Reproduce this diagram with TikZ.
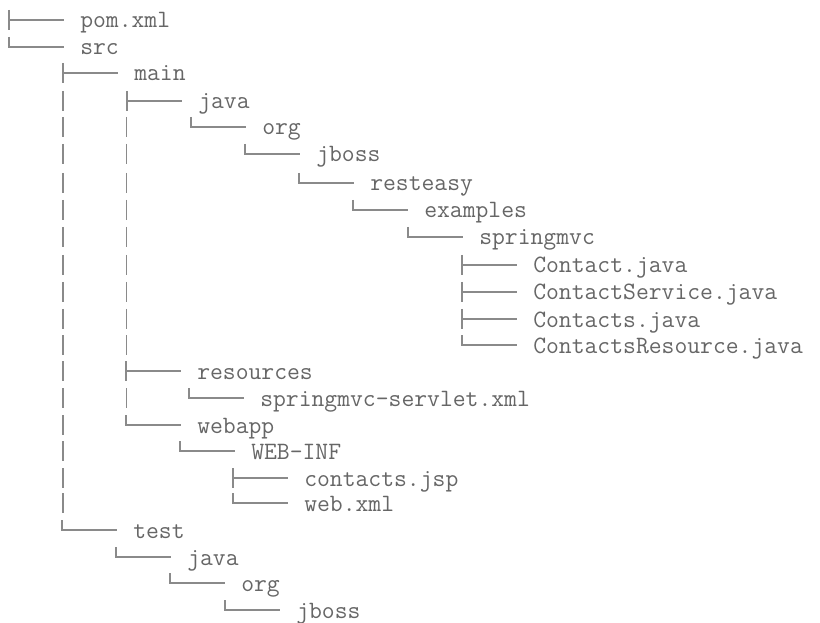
\documentclass[tikz,border=0pt]{standalone}
\usepackage{fontspec}
\usetikzlibrary{calc}

\definecolor{txtgray}{HTML}{666666}
\definecolor{linegray}{HTML}{8A8A8A}

% a directory entry: name, x of the parent's column, y of the branch line, label
\newcommand\dirnode[4]{%
  \node[entry] (#1) at ({#2+71},{#3+8}) {#4};
  \coordinate (#1-j) at (#2,#3);}
% "├──" joint to an entry
\newcommand\teelink[1]{%
  \draw[branch] ($(#1-j)+(0,-10)$) -- ($(#1-j)+(0,10)$)
                (#1-j) -- ($(#1.base west)+(-16,-8)$);}
% "└──" joint to an entry
\newcommand\elllink[1]{%
  \draw[branch] ($(#1-j)+(0,-10)$) -- (#1-j) -- ($(#1.base west)+(-16,-8)$);}
% "│" piece of a column passing an unrelated row
\newcommand\passbar[2]{\draw[branch] (#1,{#2-10}) -- (#1,{#2+10});}

\begin{document}
\begin{tikzpicture}[x=0.75pt,y=-0.75pt,
  entry/.style={anchor=base west,inner sep=0pt,text=txtgray,
    font=\ttfamily\fontsize{18.7}{20}\selectfont},
  branch/.style={draw=linegray,line width=0.9pt}]
\useasboundingbox[fill=white] (0,0) rectangle (820,623);

% entries
\dirnode{pom}{9}{20}{pom.xml}
\dirnode{src}{9}{47}{src}
\dirnode{main}{63}{73}{main}
\dirnode{mjava}{127}{101}{java}
\dirnode{morg}{191}{127}{org}
\dirnode{mjboss}{245}{154}{jboss}
\dirnode{resteasy}{299}{183}{resteasy}
\dirnode{examples}{353}{210}{examples}
\dirnode{springmvc}{408}{237}{springmvc}
\dirnode{contact}{462}{265}{Contact.java}
\dirnode{service}{462}{292}{ContactService.java}
\dirnode{contacts}{462}{319}{Contacts.java}
\dirnode{resource}{462}{345}{ContactsResource.java}
\dirnode{resources}{126}{371}{resources}
\dirnode{servlet}{189}{398}{springmvc-servlet.xml}
\dirnode{webapp}{126}{425}{webapp}
\dirnode{webinf}{180}{451}{WEB-INF}
\dirnode{jsp}{233}{478}{contacts.jsp}
\dirnode{webxml}{233}{503}{web.xml}
\dirnode{test}{62}{530}{test}
\dirnode{tjava}{116}{557}{java}
\dirnode{torg}{170}{583}{org}
\dirnode{tjboss}{225}{610}{jboss}

% joints
\teelink{pom}      \elllink{src}
\teelink{main}     \elllink{test}
\teelink{mjava}    \teelink{resources} \elllink{webapp}
\elllink{morg}     \elllink{mjboss}    \elllink{resteasy}
\elllink{examples} \elllink{springmvc}
\teelink{contact}  \teelink{service}   \teelink{contacts} \elllink{resource}
\elllink{servlet}  \elllink{webinf}
\teelink{jsp}      \elllink{webxml}
\elllink{tjava}    \elllink{torg}      \elllink{tjboss}

% columns passing rows of deeper entries
\foreach \y in {101,127,154,183,210,237,265,292,319,345,371,398,425,451,478,503}
  {\passbar{63}{\y}}
\foreach \y in {127,154,183,210,237,265,292,319,345,398}
  {\passbar{126.5}{\y}}
\end{tikzpicture}
\end{document}
